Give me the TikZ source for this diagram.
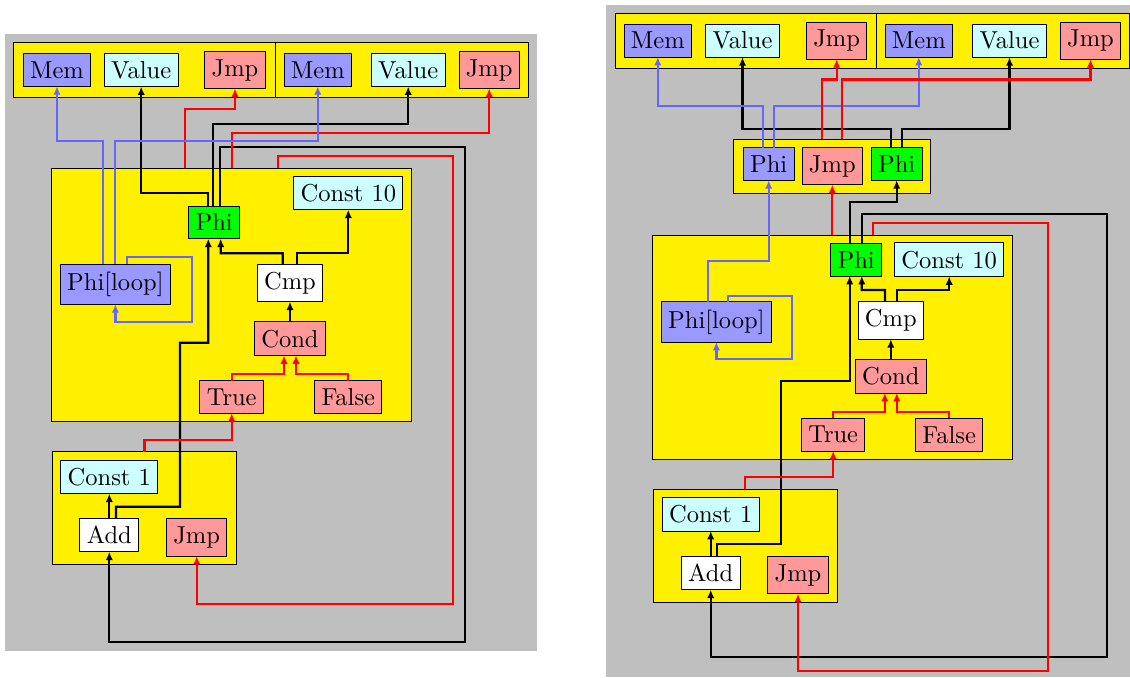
\documentclass[tikz,border=0pt]{standalone}
\usetikzlibrary{arrows.meta,calc}
\newdimen\px \px=0.408pt
\definecolor{bgray}{RGB}{191,191,191}
\definecolor{byel}{RGB}{255,240,0}
\definecolor{memc}{RGB}{153,153,255}
\definecolor{valc}{RGB}{204,255,255}
\definecolor{jmpc}{RGB}{255,153,153}
\definecolor{phic}{RGB}{0,255,0}
\definecolor{bluel}{RGB}{102,102,255}
\definecolor{redl}{RGB}{255,0,0}
\begin{document}
\begin{tikzpicture}[x=0.408pt,y=-0.408pt,
  blk/.style={draw,fill=byel,inner sep=0pt,outer sep=0pt},
  op/.style={draw,inner xsep=2.8pt,inner ysep=3.2pt,outer sep=0pt},
  mem/.style={op,fill=memc}, val/.style={op,fill=valc}, jmp/.style={op,fill=jmpc},
  phig/.style={op,fill=phic}, wht/.style={op,fill=white},
  ed/.style={line width=0.9pt,-{Latex[length=3.4pt,width=3pt]}},
  eb/.style={ed,black}, eblue/.style={ed,bluel}, ered/.style={ed,redl}]
\useasboundingbox (0,0) rectangle (1130,677);
\fill[bgray] (5,34) rectangle (537,651);
\fill[bgray] (606,5) rectangle (1130,677);

% ---------------- left diagram ----------------
\node[blk,minimum width=261.7\px,minimum height=55\px] (tbA) at (144.2,70.2) {};
\node[blk,minimum width=253.3\px,minimum height=55\px] (tbB) at (401.7,70.2) {};
\node[mem] (memA) at (57,70) {Mem};
\node[val] (valA) at (141.2,70) {Value};
\node[jmp] (jmpA) at (235,70) {Jmp};
\node[mem] (memB) at (317.8,70) {Mem};
\node[val] (valB) at (408.2,70) {Value};
\node[jmp] (jmpB) at (489.2,70) {Jmp};

\node[blk,minimum width=360\px,minimum height=253.4\px] (lbA) at (231.7,295) {};
\node[phig] (phiA) at (214.2,222.4) {Phi};
\node[val] (ctenA) at (348.3,193) {Const 10};
\node[mem] (plA) at (115.4,284.2) {Phi[loop]};
\node[wht] (cmpA) at (290,282.9) {Cmp};
\node[jmp] (condA) at (290,338.7) {Cond};
\node[jmp] (trueA) at (231.7,397) {True};
\node[jmp] (falseA) at (348.3,397) {False};

\node[blk,minimum width=184.4\px,minimum height=112.6\px] (abA) at (144.5,508) {};
\node[val] (coneA) at (109.3,477) {Const 1};
\node[wht] (addA) at (109.3,535) {Add};
\node[jmp] (jmpC) at (196.7,537.5) {Jmp};

\draw[eb] ($(phiA.north)+(-6,0)$) |- (141.2,193.3) -- (valA.south);
\draw[eb] ($(phiA.north)+(-1,0)$) |- (408.2,124) -- (valB.south);
\draw[eb] ($(phiA.north)+(5.8,0)$) |- (465,146.7) |- (109.3,641.7) -- (addA.south);
\draw[eb] ($(addA.north)+(6.7,0)$) |- (180,506.7) |- (208.3,342.7) -- ($(phiA.south)+(-5.9,0)$);
\draw[eb] ($(cmpA.north)+(-7.3,0)$) |- (220.7,253.3) -- ($(phiA.south)+(6.5,0)$);
\draw[eb] ($(cmpA.north)+(6.7,0)$) |- (348.3,253.3) -- (ctenA.south);
\draw[eb] (condA.north) -- (cmpA.south);
\draw[ered] (trueA.north) |- (284,374.3) -- ($(condA.south)+(-6,0)$);
\draw[ered] (falseA.north) |- (296,374.3) -- ($(condA.south)+(6,0)$);
\draw[ered] (abA.north) |- (231.7,440) -- (trueA.south);
\draw[ered] ($(lbA.north)+(-46.7,0)$) |- (235,109.3) -- (jmpA.south);
\draw[ered] (lbA.north) |- (489.2,132.7) -- (jmpB.south);
\draw[ered] ($(lbA.north)+(46,0)$) |- (452.7,156) |- (196.7,604) -- (jmpC.south);
\draw[eblue] ($(plA.north)+(-12.1,0)$) |- (57,141) -- (memA.south);
\draw[eblue] ($(plA.north)+(-0.4,0)$) |- (317.8,141) -- (memB.south);
\draw[eblue] ($(plA.north)+(11.9,0)$) |- (191.7,257.3) |- (115.4,321.7) -- (plA.south);
\draw[eb] (addA.north) -- (coneA.south);

% ---------------- right diagram ----------------
\node[blk,minimum width=261\px,minimum height=55\px] (tbC) at (745.5,40.8) {};
\node[blk,minimum width=253\px,minimum height=55\px] (tbD) at (1002.5,40.8) {};
\node[mem] (memC) at (657.8,40.7) {Mem};
\node[val] (valC) at (742.5,40.7) {Value};
\node[jmp] (jmpD) at (836.7,40.7) {Jmp};
\node[mem] (memD) at (918.8,40.7) {Mem};
\node[val] (valD) at (1009.5,40.7) {Value};
\node[jmp] (jmpE) at (1090.5,40.7) {Jmp};

\node[blk,minimum width=197\px,minimum height=54.3\px] (sb) at (832.3,166.2) {};
\node[mem] (phiB) at (768.7,164) {Phi};
\node[jmp] (jmpS) at (832.3,166.2) {Jmp};
\node[phig] (phiG) at (896.7,164) {Phi};

\node[blk,minimum width=360\px,minimum height=224.3\px] (lbB) at (832.3,347.2) {};
\node[phig] (phiC) at (856.2,259.7) {Phi};
\node[val] (ctenB) at (949.2,259.7) {Const 10};
\node[mem] (plB) at (716.4,321.9) {Phi[loop]};
\node[wht] (cmpB) at (890.8,320.5) {Cmp};
\node[jmp] (condB) at (890.8,376.3) {Cond};
\node[jmp] (trueB) at (833.2,434.7) {True};
\node[jmp] (falseB) at (949.2,434.7) {False};

\node[blk,minimum width=184\px,minimum height=113\px] (abB) at (745.3,545.8) {};
\node[val] (coneB) at (710.7,514.3) {Const 1};
\node[wht] (addB) at (710.7,573) {Add};
\node[jmp] (jmpF) at (798,575.3) {Jmp};

\draw[eb] ($(phiG.north)+(-6,0)$) |- (742.5,129) -- (valC.south);
\draw[eb] ($(phiG.north)+(5.6,0)$) |- (1009.5,129) -- (valD.south);
\draw[eblue] ($(phiB.north)+(-6,0)$) |- (657.8,106) -- (memC.south);
\draw[eblue] ($(phiB.north)+(5.6,0)$) |- (918.8,106) -- (memD.south);
\draw[ered] ($(sb.north)+(-10,0)$) |- (836.7,79.5) -- (jmpD.south);
\draw[ered] ($(sb.north)+(10,0)$) |- (1090.5,79.5) -- (jmpE.south);
\draw[eb] ($(phiC.north)+(-6.5,0)$) |- (896.7,202.3) -- (phiG.south);
\draw[eb] ($(phiC.north)+(5.6,0)$) |- (1106.7,214.2) |- (710.7,656.7) -- (addB.south);
\draw[ered] (lbB.north) -- (jmpS.south);
\draw[ered] ($(lbB.north)+(41,0)$) |- (1048.3,222.7) |- (798,671) -- (jmpF.south);
\draw[eblue] ($(plB.north)+(-8.1,0)$) |- (768.7,260.7) -- (phiB.south);
\draw[eblue] ($(plB.north)+(11.9,0)$) |- (792.3,295.7) |- (716.4,359.3) -- (plB.south);
\draw[eb] ($(addB.north)+(6,0)$) |- (781.3,544.3) |- (849.7,381) -- ($(phiC.south)+(-6.5,0)$);
\draw[eb] ($(cmpB.north)+(-5.8,0)$) |- (861.8,290) -- ($(phiC.south)+(5.6,0)$);
\draw[eb] ($(cmpB.north)+(6.5,0)$) |- (949.2,290) -- (ctenB.south);
\draw[eb] (condB.north) -- (cmpB.south);
\draw[ered] (trueB.north) |- (884.8,411.7) -- ($(condB.south)+(-6,0)$);
\draw[ered] (falseB.north) |- (896.8,411.7) -- ($(condB.south)+(6,0)$);
\draw[ered] (abB.north) |- (833.2,477.3) -- (trueB.south);
\draw[eb] (addB.north) -- (coneB.south);
\end{tikzpicture}
\end{document}
